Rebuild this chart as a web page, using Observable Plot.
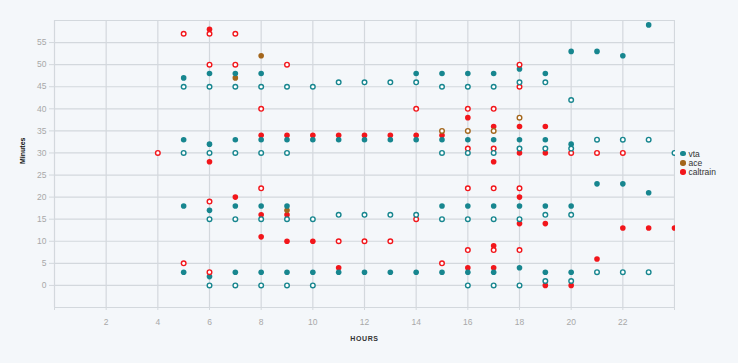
<!DOCTYPE html>
<html><head><meta charset="utf-8">
<script src="https://cdn.jsdelivr.net/npm/d3@7"></script>
<script src="https://cdn.jsdelivr.net/npm/@observablehq/plot@0.6"></script>
<style>
body{margin:0;background:#f4f7fa;font-family:"Liberation Sans",Arial,sans-serif;}
#wrap{position:relative;width:738px;height:363px;overflow:hidden;}
#chart{position:absolute;left:0;top:0;}
#legend{position:absolute;left:680px;top:149px;font-size:8.5px;color:#333;}
.item{display:flex;align-items:center;height:9.3px;white-space:nowrap}
.sw{width:5.5px;height:5.5px;border-radius:50%;margin-right:3px;flex:none}
</style></head><body><div id="wrap"><div id="chart"></div><div id="legend"></div></div>
<script>
// Series names and colours
const seriesNames = ["vta", "ace", "caltrain"];
const seriesColors = ["#17868f", "#a3661c", "#f2161b"];

// Tick values
const xTicks = [2, 4, 6, 8, 10, 12, 14, 16, 18, 20, 22];
const yTicks = [0, 5, 10, 15, 20, 25, 30, 35, 40, 45, 50, 55];
const xGrid = [0, 2, 4, 6, 8, 10, 12, 14, 16, 18, 20, 22, 24];
const yGrid = [-5, 0, 5, 10, 15, 20, 25, 30, 35, 40, 45, 50, 55, 60];

// [hour, minute] — filled dots
const vtaFilled = [
  [5,47],[5,33],[5,18],[5,3],
  [6,48],[6,32],[6,17],[6,2],
  [7,48],[7,33],[7,18],[7,3],
  [8,48],[8,33],[8,18],[8,3],
  [9,33],[9,18],[9,3],
  [10,33],[10,3],[11,33],[11,3],[12,33],[12,3],[13,33],[13,3],
  [14,48],[14,33],[14,3],
  [15,48],[15,33],[15,18],[15,3],
  [16,48],[16,33],[16,18],[16,3],
  [17,48],[17,33],[17,18],[17,3],
  [18,49],[18,33],[18,18],[18,4],
  [19,48],[19,33],[19,18],[19,3],
  [20,53],[20,32],[20,18],[20,3],
  [21,53],[21,23],[22,52],[22,23],[23,59],[23,21]
];
// [hour, minute] — open circles
const vtaOpen = [
  [5,45],[5,30],
  [6,45],[6,30],[6,15],[6,0],
  [7,45],[7,30],[7,15],[7,0],
  [8,45],[8,30],[8,15],[8,0],
  [9,45],[9,30],[9,15],[9,0],
  [10,45],[10,15],[10,0],
  [11,46],[11,16],[12,46],[12,16],[13,46],[13,16],[14,46],[14,16],
  [15,45],[15,30],[15,15],
  [16,45],[16,30],[16,15],[16,0],
  [17,45],[17,30],[17,15],[17,0],
  [18,46],[18,31],[18,15],[18,0],
  [19,46],[19,31],[19,16],[19,1],
  [20,42],[20,31],[20,16],[20,1],
  [21,33],[21,3],[22,33],[22,3],[23,33],[23,3],
  [24,30]
];
const aceFilled = [[7,47],[8,52],[9,17]];
const aceOpen = [[15,35],[16,35],[17,35],[18,38]];
const caltrainFilled = [
  [6,58],[6,28],[7,20],
  [8,34],[8,16],[8,11],
  [9,34],[9,16],[9,10],
  [10,34],[10,10],[11,34],[11,4],
  [12,34],[13,34],[14,34],[15,34],
  [16,38],[16,4],
  [17,36],[17,28],[17,9],[17,4],
  [18,36],[18,30],[18,20],[18,14],
  [19,36],[19,30],[19,14],[19,0],
  [20,0],[21,6],[22,13],[23,13],[24,13]
];
const caltrainOpen = [
  [4,30],[5,57],[5,5],
  [6,57],[6,50],[6,19],[6,3],
  [7,57],[7,50],
  [8,40],[8,22],[9,50],
  [11,10],[12,10],[13,10],
  [14,40],[14,15],[15,5],
  [16,40],[16,31],[16,22],[16,8],
  [17,40],[17,31],[17,22],[17,8],
  [18,50],[18,45],[18,22],[18,8],
  [20,30],[21,30],[22,30]
];

const rows = (arr, series) => arr.map(([h, m]) => ({hour: h, minute: m, series}));
const filled = [...rows(caltrainFilled, "caltrain"), ...rows(aceFilled, "ace"), ...rows(vtaFilled, "vta")];
const open = [...rows(caltrainOpen, "caltrain"), ...rows(aceOpen, "ace"), ...rows(vtaOpen, "vta")];

const gridColor = "#d3d8dd";
const chart = Plot.plot({
  width: 675, height: 363,
  marginLeft: 54, marginRight: 1, marginTop: 20, marginBottom: 56,
  style: {background: "transparent", fontFamily: "Liberation Sans, Arial, sans-serif", fontSize: "8.5px"},
  x: {domain: [0, 24]},
  y: {domain: [-5, 60]},
  color: {domain: seriesNames, range: seriesColors},
  marks: [
    Plot.gridX(xGrid, {stroke: gridColor, strokeOpacity: 1, strokeWidth: 1.2}),
    Plot.gridY(yGrid, {stroke: gridColor, strokeOpacity: 1, strokeWidth: 1.2}),
    Plot.axisY({ticks: yTicks, tickSize: 5, tickPadding: 3, stroke: gridColor, fill: "#a8a8a8", label: null}),
    Plot.axisX({ticks: xGrid, tickSize: 3, tickPadding: 0, stroke: gridColor, fill: "none", label: null}),
    Plot.axisX({ticks: xTicks, tickSize: 0, tickPadding: 11, fill: "#a8a8a8", label: null}),
    Plot.text(["Minutes"], {text: d => d, frameAnchor: "left", dx: -32, rotate: -90, fontWeight: "bold", fontSize: 7, fill: "#111"}),
    Plot.text(["HOURS"], {text: d => d, frameAnchor: "bottom", dy: 33, fontWeight: "bold", fontSize: 7, fill: "#333"}),
    Plot.dot(filled, {x: "hour", y: "minute", fill: "series", r: 2.8, stroke: "none"}),
    Plot.dot(open, {x: "hour", y: "minute", stroke: "series", fill: "white", r: 2.3, strokeWidth: 1.4})
  ]
});
d3.select(chart).selectAll("text").filter(function(){ return this.textContent === "HOURS"; }).attr("letter-spacing", "0.6px");
document.getElementById("chart").appendChild(chart);

const legend = d3.select("#legend");
seriesNames.forEach((s, i) => {
  const it = legend.append("div").attr("class", "item");
  it.append("span").attr("class", "sw").style("background", seriesColors[i]);
  it.append("span").text(s);
});
</script>
</body></html>
